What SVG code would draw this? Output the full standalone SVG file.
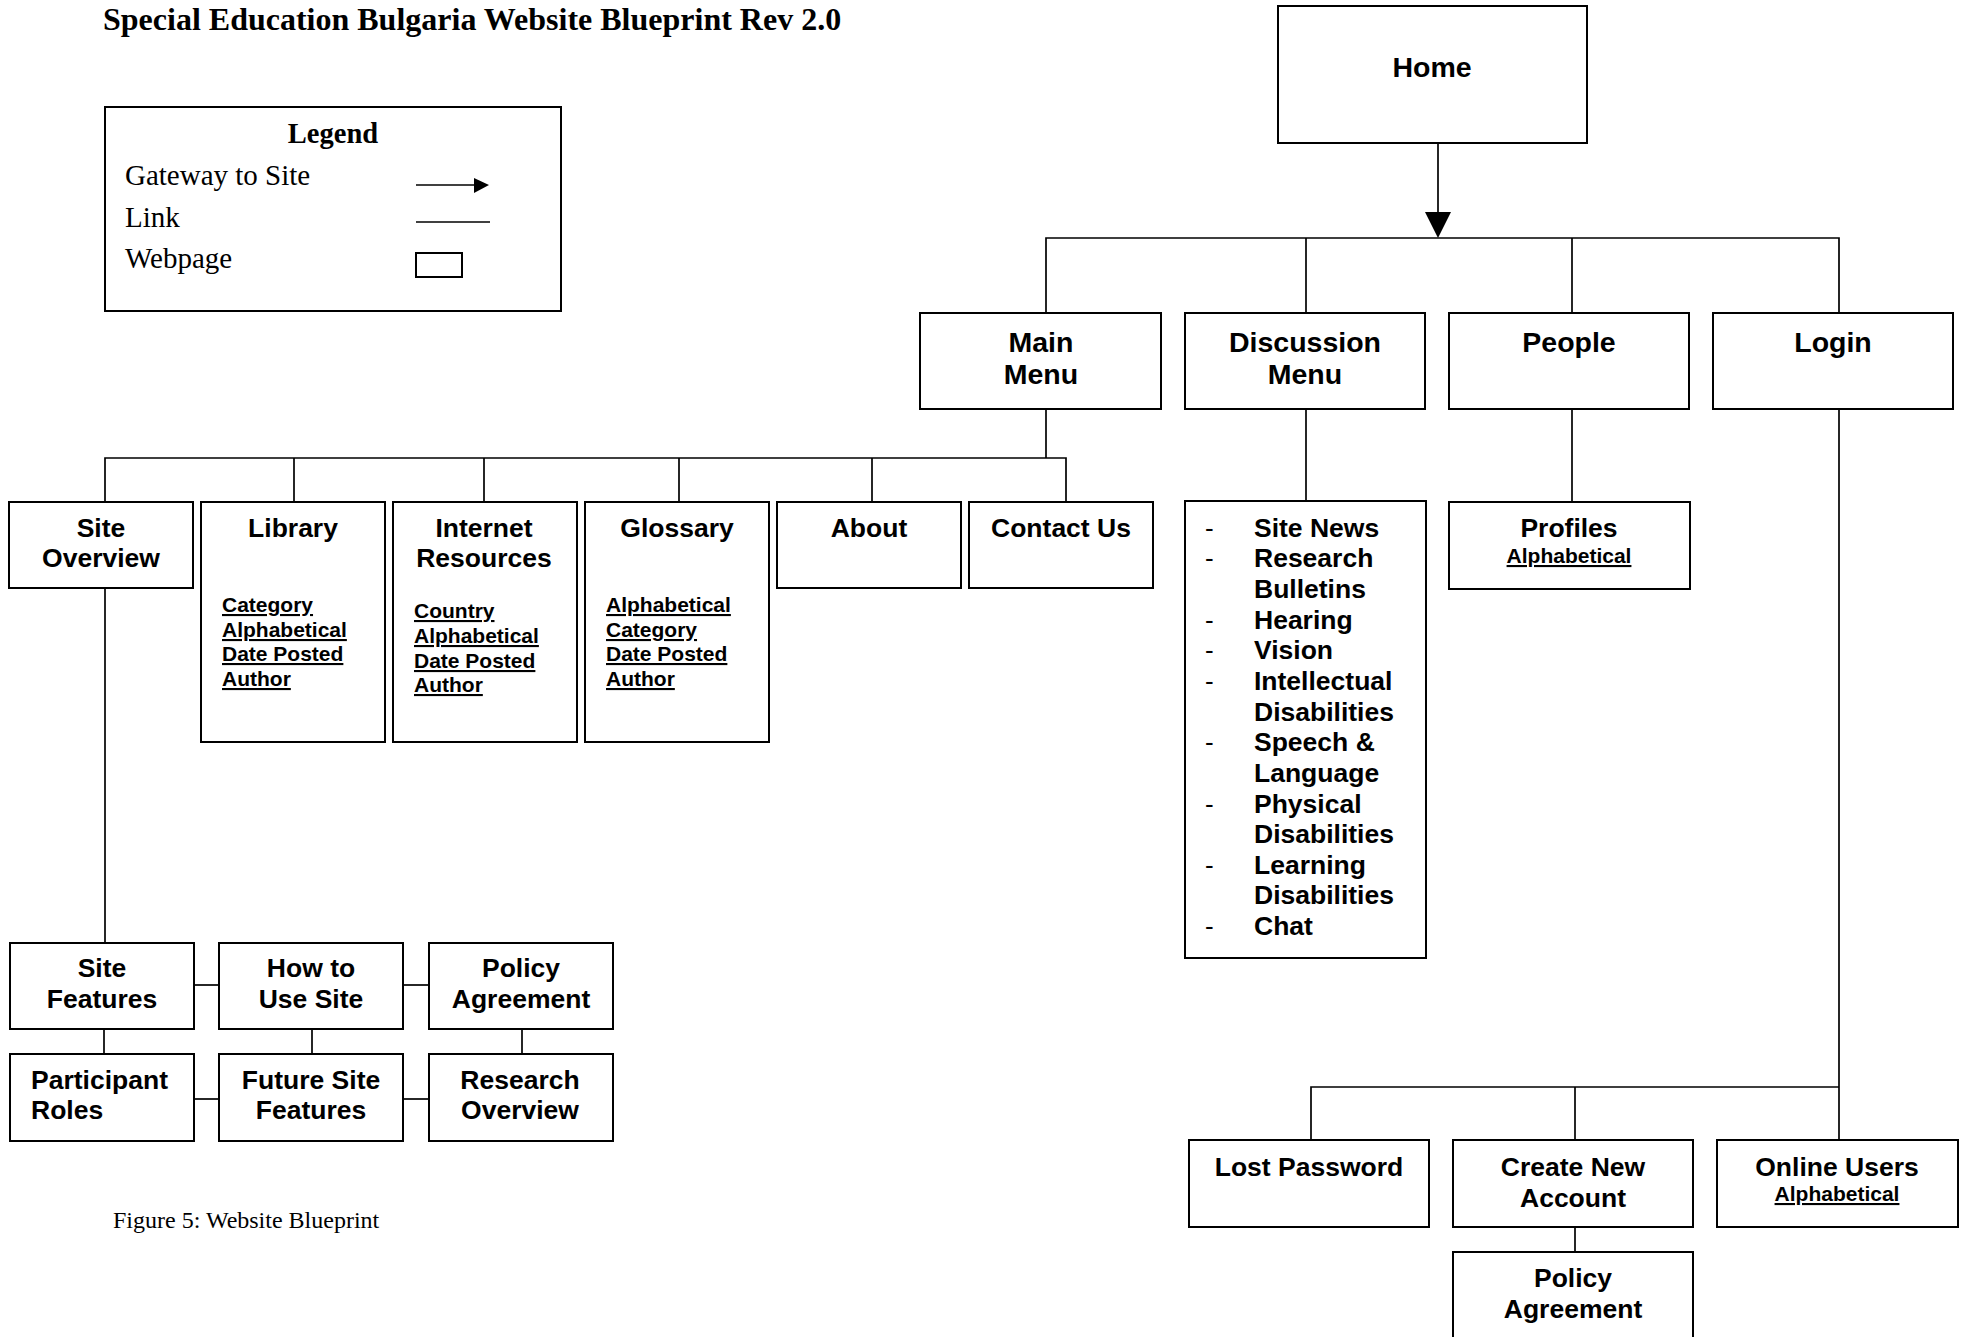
<svg xmlns="http://www.w3.org/2000/svg" width="1967" height="1337" viewBox="0 0 1967 1337">
<defs>
<style>
.box{fill:#fff;stroke:#000;stroke-width:2}
.ln{stroke:#000;stroke-width:1.7;fill:none}
.sans{font-family:"Liberation Sans",Arial,sans-serif;font-weight:bold;fill:#000}
.t1{font-size:28.5px;text-anchor:middle}
.t2{font-size:26.5px;text-anchor:middle}
.tl{font-size:26.5px}
.sub{font-size:21px;text-decoration:underline}
.subc{font-size:21px;text-decoration:underline;text-anchor:middle}
.dash{font-family:"Liberation Sans",Arial,sans-serif;font-size:26px;font-weight:normal;fill:#000}
.serif{font-family:"Liberation Serif","Times New Roman",serif;fill:#000}
.sb{font-weight:bold}
.sr{font-weight:normal}
</style>
</defs>
<rect width="1967" height="1337" fill="#fff"/>

<text class="serif sb" x="103" y="30" font-size="32">Special Education Bulgaria Website Blueprint Rev 2.0</text>

<g id="legend">
<rect x="105" y="107" width="456" height="204" fill="#fff" stroke="#000" stroke-width="2"/>
<text class="serif sb" x="333" y="143" font-size="28.5" text-anchor="middle">Legend</text>
<text class="serif sr" x="125" y="185" font-size="29">Gateway to Site</text>
<text class="serif sr" x="125" y="227" font-size="29">Link</text>
<text class="serif sr" x="125" y="268" font-size="29">Webpage</text>
<line x1="416" y1="185" x2="476" y2="185" stroke="#000" stroke-width="1.7"/>
<path d="M474,178 L489,185 L474,193 Z" fill="#000"/>
<line x1="416" y1="222" x2="490" y2="222" stroke="#000" stroke-width="1.7"/>
<rect x="416" y="253" width="46" height="24" fill="#fff" stroke="#000" stroke-width="2"/>
</g>

<g id="connectors">
<line class="ln" x1="1438" y1="143" x2="1438" y2="214"/>
<path d="M1425,212 L1451,212 L1438,238 Z" fill="#000"/>
<polyline class="ln" points="1046,313 1046,238 1839,238 1839,313"/>
<line class="ln" x1="1306" y1="238" x2="1306" y2="313"/>
<line class="ln" x1="1572" y1="238" x2="1572" y2="313"/>
<line class="ln" x1="1046" y1="409" x2="1046" y2="458"/>
<polyline class="ln" points="105,502 105,458 1066,458 1066,502"/>
<line class="ln" x1="294" y1="458" x2="294" y2="502"/>
<line class="ln" x1="484" y1="458" x2="484" y2="502"/>
<line class="ln" x1="679" y1="458" x2="679" y2="502"/>
<line class="ln" x1="872" y1="458" x2="872" y2="502"/>
<line class="ln" x1="1306" y1="409" x2="1306" y2="502"/>
<line class="ln" x1="1572" y1="409" x2="1572" y2="502"/>
<line class="ln" x1="1839" y1="409" x2="1839" y2="1140"/>
<polyline class="ln" points="1311,1140 1311,1087 1839,1087"/>
<line class="ln" x1="1575" y1="1087" x2="1575" y2="1140"/>
<line class="ln" x1="1575" y1="1227" x2="1575" y2="1252"/>
<line class="ln" x1="105" y1="588" x2="105" y2="943"/>
<line class="ln" x1="194" y1="985" x2="219" y2="985"/>
<line class="ln" x1="403" y1="985" x2="429" y2="985"/>
<line class="ln" x1="194" y1="1099" x2="219" y2="1099"/>
<line class="ln" x1="403" y1="1099" x2="429" y2="1099"/>
<line class="ln" x1="104" y1="1029" x2="104" y2="1054"/>
<line class="ln" x1="312" y1="1029" x2="312" y2="1054"/>
<line class="ln" x1="522" y1="1029" x2="522" y2="1054"/>
</g>

<g id="home" class="sans"><rect class="box" x="1278" y="6" width="309" height="137"/><text class="t1" x="1432" y="77" font-size="29">Home</text></g>

<g id="main-menu" class="sans"><rect class="box" x="920" y="313" width="241" height="96"/><text class="t1" x="1041" y="352">Main</text><text class="t1" x="1041" y="384">Menu</text></g>
<g id="discussion-menu" class="sans"><rect class="box" x="1185" y="313" width="240" height="96"/><text class="t1" x="1305" y="352">Discussion</text><text class="t1" x="1305" y="384">Menu</text></g>
<g id="people" class="sans"><rect class="box" x="1449" y="313" width="240" height="96"/><text class="t1" x="1569" y="352">People</text></g>
<g id="login" class="sans"><rect class="box" x="1713" y="313" width="240" height="96"/><text class="t1" x="1833" y="352">Login</text></g>

<g id="site-overview" class="sans"><rect class="box" x="9" y="502" width="184" height="86"/><text class="t2" x="101" y="537">Site</text><text class="t2" x="101" y="567">Overview</text></g>
<g id="library" class="sans"><rect class="box" x="201" y="502" width="184" height="240"/><text class="t2" x="293" y="537">Library</text>
<text class="sub" x="222" y="612">Category</text><text class="sub" x="222" y="637">Alphabetical</text><text class="sub" x="222" y="661">Date Posted</text><text class="sub" x="222" y="686">Author</text></g>
<g id="internet-resources" class="sans"><rect class="box" x="393" y="502" width="184" height="240"/><text class="t2" x="484" y="537">Internet</text><text class="t2" x="484" y="567">Resources</text>
<text class="sub" x="414" y="618">Country</text><text class="sub" x="414" y="643">Alphabetical</text><text class="sub" x="414" y="668">Date Posted</text><text class="sub" x="414" y="692">Author</text></g>
<g id="glossary" class="sans"><rect class="box" x="585" y="502" width="184" height="240"/><text class="t2" x="677" y="537">Glossary</text>
<text class="sub" x="606" y="612">Alphabetical</text><text class="sub" x="606" y="637">Category</text><text class="sub" x="606" y="661">Date Posted</text><text class="sub" x="606" y="686">Author</text></g>
<g id="about" class="sans"><rect class="box" x="777" y="502" width="184" height="86"/><text class="t2" x="869" y="537">About</text></g>
<g id="contact-us" class="sans"><rect class="box" x="969" y="502" width="184" height="86"/><text class="t2" x="1061" y="537">Contact Us</text></g>

<g id="discussion-topics" class="sans"><rect class="box" x="1185" y="501" width="241" height="457"/>
<text class="dash" x="1205" y="537">-</text><text class="tl" x="1254" y="537">Site News</text>
<text class="dash" x="1205" y="567">-</text><text class="tl" x="1254" y="567">Research</text>
<text class="tl" x="1254" y="598">Bulletins</text>
<text class="dash" x="1205" y="629">-</text><text class="tl" x="1254" y="629">Hearing</text>
<text class="dash" x="1205" y="659">-</text><text class="tl" x="1254" y="659">Vision</text>
<text class="dash" x="1205" y="690">-</text><text class="tl" x="1254" y="690">Intellectual</text>
<text class="tl" x="1254" y="721">Disabilities</text>
<text class="dash" x="1205" y="751">-</text><text class="tl" x="1254" y="751">Speech &amp;</text>
<text class="tl" x="1254" y="782">Language</text>
<text class="dash" x="1205" y="813">-</text><text class="tl" x="1254" y="813">Physical</text>
<text class="tl" x="1254" y="843">Disabilities</text>
<text class="dash" x="1205" y="874">-</text><text class="tl" x="1254" y="874">Learning</text>
<text class="tl" x="1254" y="904">Disabilities</text>
<text class="dash" x="1205" y="935">-</text><text class="tl" x="1254" y="935">Chat</text>
</g>

<g id="profiles" class="sans"><rect class="box" x="1449" y="502" width="241" height="87"/><text class="t2" x="1569" y="537">Profiles</text><text class="subc" x="1569" y="563">Alphabetical</text></g>

<g id="site-features" class="sans"><rect class="box" x="10" y="943" width="184" height="86"/><text class="t2" x="102" y="977">Site</text><text class="t2" x="102" y="1008">Features</text></g>
<g id="how-to-use-site" class="sans"><rect class="box" x="219" y="943" width="184" height="86"/><text class="t2" x="311" y="977">How to</text><text class="t2" x="311" y="1008">Use Site</text></g>
<g id="policy-agreement-1" class="sans"><rect class="box" x="429" y="943" width="184" height="86"/><text class="t2" x="521" y="977">Policy</text><text class="t2" x="521" y="1008">Agreement</text></g>
<g id="participant-roles" class="sans"><rect class="box" x="10" y="1054" width="184" height="87"/><text class="tl" x="31" y="1089">Participant</text><text class="tl" x="31" y="1119">Roles</text></g>
<g id="future-site-features" class="sans"><rect class="box" x="219" y="1054" width="184" height="87"/><text class="t2" x="311" y="1089">Future Site</text><text class="t2" x="311" y="1119">Features</text></g>
<g id="research-overview" class="sans"><rect class="box" x="429" y="1054" width="184" height="87"/><text class="t2" x="520" y="1089">Research</text><text class="t2" x="520" y="1119">Overview</text></g>

<g id="lost-password" class="sans"><rect class="box" x="1189" y="1140" width="240" height="87"/><text class="t2" x="1309" y="1176">Lost Password</text></g>
<g id="create-new-account" class="sans"><rect class="box" x="1453" y="1140" width="240" height="87"/><text class="t2" x="1573" y="1176">Create New</text><text class="t2" x="1573" y="1207">Account</text></g>
<g id="online-users" class="sans"><rect class="box" x="1717" y="1140" width="241" height="87"/><text class="t2" x="1837" y="1176">Online Users</text><text class="subc" x="1837" y="1201">Alphabetical</text></g>
<g id="policy-agreement-2" class="sans"><rect class="box" x="1453" y="1252" width="240" height="100"/><text class="t2" x="1573" y="1287">Policy</text><text class="t2" x="1573" y="1318">Agreement</text></g>

<text class="serif sr" x="113" y="1228" font-size="24">Figure 5: Website Blueprint</text>
</svg>
